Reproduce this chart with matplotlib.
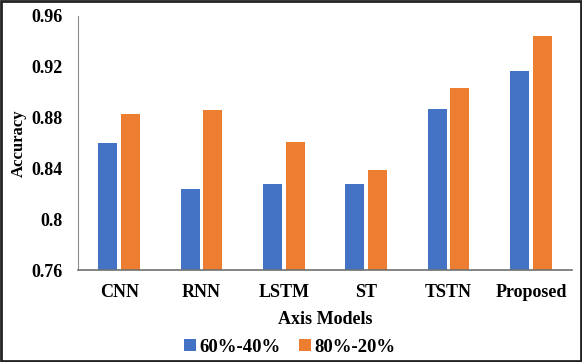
import matplotlib
matplotlib.use('Agg')
import matplotlib.pyplot as plt
import numpy as np
from matplotlib.patches import Rectangle

models = ['CNN', 'RNN', 'LSTM', 'ST', 'TSTN', 'Proposed']
split_60_40 = [0.860, 0.824, 0.828, 0.8275, 0.8865, 0.917]
split_80_20 = [0.883, 0.886, 0.8605, 0.8387, 0.903, 0.9445]
y_ticks = [0.76, 0.8, 0.84, 0.88, 0.92, 0.96]
y_tick_labels = ['0.76', '0.8', '0.84', '0.88', '0.92', '0.96']

plt.rcParams['font.family'] = ['Liberation Serif', 'DejaVu Serif']
plt.rcParams['font.weight'] = 'bold'

fig = plt.figure(figsize=(5.82, 3.62), dpi=100)
ax = fig.add_axes([0.134, 0.254, 0.849, 0.702])

x = np.arange(len(models))
w = 0.23
gap = 0.045
ax.bar(x - (w + gap) / 2, split_60_40, w, color='#4472C4', label='60%-40%')
ax.bar(x + (w + gap) / 2, split_80_20, w, color='#ED7D31', label='80%-20%')

ax.set_xlim(-0.5, len(models) - 0.5)
ax.set_ylim(0.76, 0.96)
ax.set_yticks(y_ticks)
ax.set_yticklabels(y_tick_labels)
ax.set_xticks(x)
ax.set_xticklabels(models)
ax.tick_params(axis='y', length=0, pad=11, labelsize=13)
ax.tick_params(axis='x', length=0, pad=10, labelsize=13)

for s in ['top', 'right']:
    ax.spines[s].set_visible(False)
ax.spines['left'].set_color('#8c8c8c')
ax.spines['bottom'].set_color('#707070')
ax.spines['bottom'].set_linewidth(1.2)

ax.set_ylabel('Accuracy', fontsize=12, fontweight='bold', labelpad=3)
ax.set_xlabel('Axis Models', fontsize=13, fontweight='bold', labelpad=7)

fig.legend(loc='center', bbox_to_anchor=(0.498, 0.041), ncol=2, frameon=False,
           fontsize=13.5, handlelength=0.6, handleheight=0.6, handletextpad=0.2,
           columnspacing=1.0)

# black frame around the whole picture
fig.patches.append(Rectangle((0.002, 0.003), 0.996, 0.994, transform=fig.transFigure,
                             fill=False, edgecolor='#222222', linewidth=2))

fig.savefig('out.png', dpi=100)
